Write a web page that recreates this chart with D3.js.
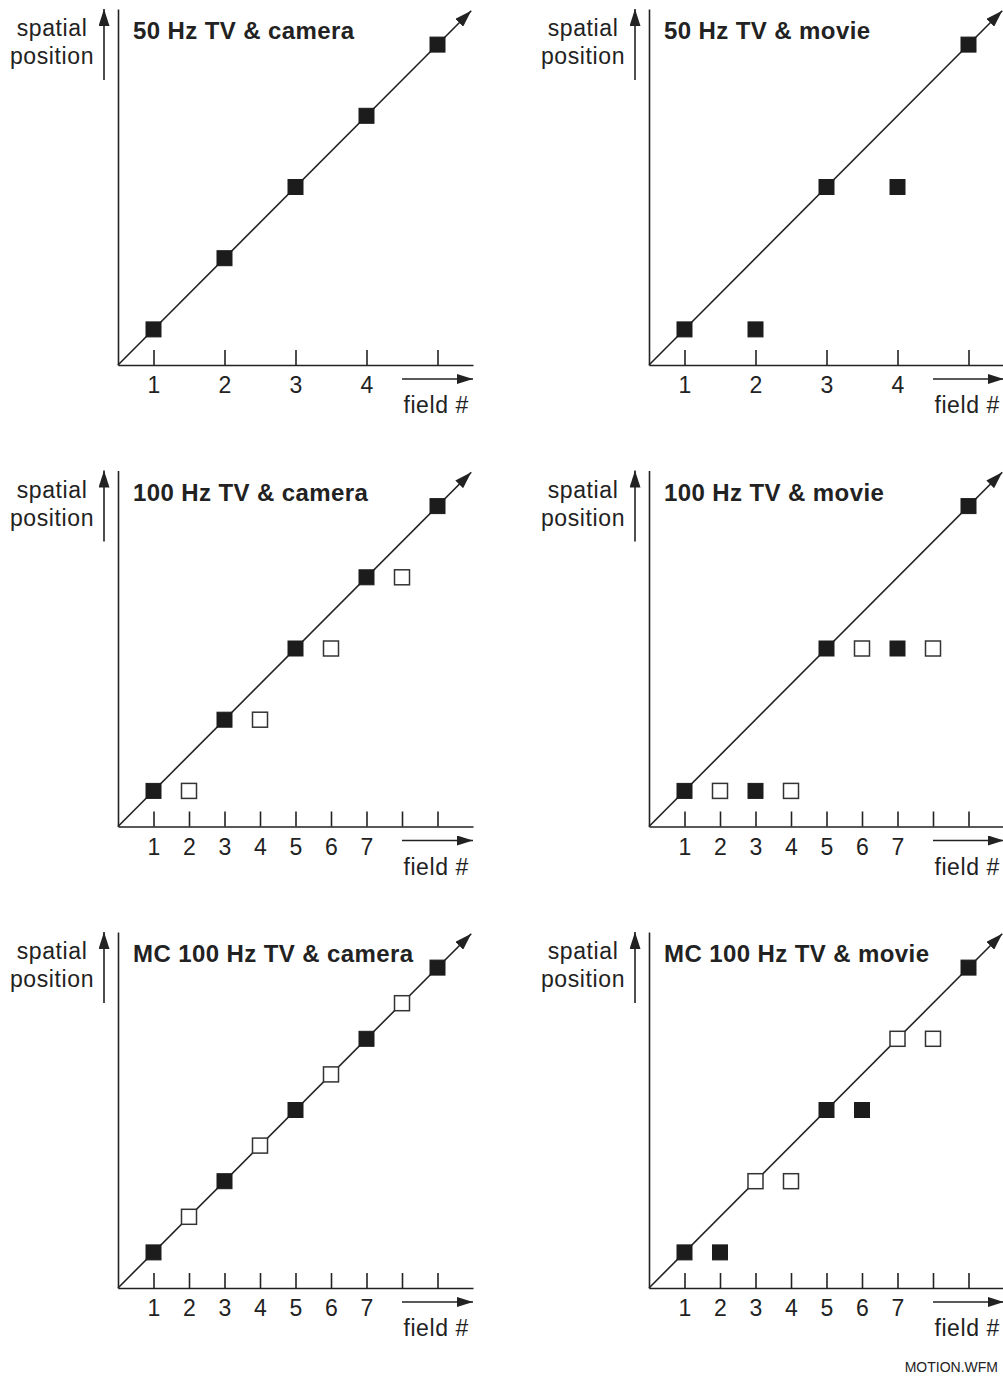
<!DOCTYPE html>
<html>
<head>
<meta charset="utf-8">
<script src="https://cdn.jsdelivr.net/npm/d3@7"></script>
<style>
  html, body { margin: 0; padding: 0; background: #fff; }
  svg { display: block; }
  text { font-family: "Liberation Sans", Arial, Helvetica, sans-serif; fill: #222; }
</style>
</head>
<body>
<script>
// Field timing diagrams: spatial position of a moving object per displayed field.
// Time axis is counted in 100 Hz field periods; 50 Hz fields fall on every other one.

const panelTitles = [
  "50 Hz TV & camera", "50 Hz TV & movie",
  "100 Hz TV & camera", "100 Hz TV & movie",
  "MC 100 Hz TV & camera", "MC 100 Hz TV & movie"
];
const panelRates = [50, 50, 100, 100, 100, 100];

// tick positions (in 100 Hz field periods) and their labels
const ticks50 = [1, 3, 5, 7, 9];
const tickLabels50 = ["1", "2", "3", "4", ""];
const ticks100 = [1, 2, 3, 4, 5, 6, 7, 8, 9];
const tickLabels100 = ["1", "2", "3", "4", "5", "6", "7", "", ""];

// field time, displayed position, original (1 = filled) or repeated/interpolated (0 = open)
const tv50CameraT   = [1, 3, 5, 7, 9];
const tv50CameraPos = [1, 3, 5, 7, 9];
const tv50CameraOrig = [1, 1, 1, 1, 1];

const tv50MovieT   = [1, 3, 5, 7, 9];
const tv50MoviePos = [1, 1, 5, 5, 9];
const tv50MovieOrig = [1, 1, 1, 1, 1];

const tv100CameraT   = [1, 2, 3, 4, 5, 6, 7, 8, 9];
const tv100CameraPos = [1, 1, 3, 3, 5, 5, 7, 7, 9];
const tv100CameraOrig = [1, 0, 1, 0, 1, 0, 1, 0, 1];

const tv100MovieT   = [1, 2, 3, 4, 5, 6, 7, 8, 9];
const tv100MoviePos = [1, 1, 1, 1, 5, 5, 5, 5, 9];
const tv100MovieOrig = [1, 0, 1, 0, 1, 0, 1, 0, 1];

const mc100CameraT   = [1, 2, 3, 4, 5, 6, 7, 8, 9];
const mc100CameraPos = [1, 2, 3, 4, 5, 6, 7, 8, 9];
const mc100CameraOrig = [1, 0, 1, 0, 1, 0, 1, 0, 1];

const mc100MovieT   = [1, 2, 3, 4, 5, 6, 7, 8, 9];
const mc100MoviePos = [1, 1, 3, 3, 5, 5, 7, 7, 9];
const mc100MovieOrig = [1, 1, 0, 0, 1, 1, 0, 0, 1];

const panelFields = [
  [tv50CameraT, tv50CameraPos, tv50CameraOrig],
  [tv50MovieT, tv50MoviePos, tv50MovieOrig],
  [tv100CameraT, tv100CameraPos, tv100CameraOrig],
  [tv100MovieT, tv100MoviePos, tv100MovieOrig],
  [mc100CameraT, mc100CameraPos, mc100CameraOrig],
  [mc100MovieT, mc100MoviePos, mc100MovieOrig]
];

const W = 1003, H = 1376;
const ink = "#222";
const colX = [118, 649];
const rowY = [365, 826.5, 1288];
const axisLen = 355;   // length of both axes in px
const sq = 15;         // square marker size
const lw = 1.6;        // line width
const fs = 23;         // label font size

const svg = d3.select("body").append("svg")
  .attr("width", W).attr("height", H)
  .attr("viewBox", `0 0 ${W} ${H}`);

const defs = svg.append("defs");
function arrowMarker(id, len, wid) {
  defs.append("marker")
    .attr("id", id)
    .attr("markerUnits", "userSpaceOnUse")
    .attr("viewBox", `0 0 ${len} ${wid}`)
    .attr("markerWidth", len).attr("markerHeight", wid)
    .attr("refX", len).attr("refY", wid / 2)
    .attr("orient", "auto")
    .append("path")
    .attr("d", `M0,0L${len},${wid / 2}L0,${wid}Z`)
    .attr("fill", ink);
}
arrowMarker("headDiag", 17, 11);
arrowMarker("headSmall", 16, 10);
arrowMarker("headUp", 17, 11);

panelTitles.forEach((title, i) => {
  const ox = colX[i % 2], oy = rowY[Math.floor(i / 2)];
  const x = d3.scaleLinear().domain([0, 10]).range([ox, ox + axisLen]);
  const y = d3.scaleLinear().domain([0, 10]).range([oy, oy - 356]);
  const g = svg.append("g");

  // time axis with upward ticks
  const is50 = panelRates[i] === 50;
  const tv = is50 ? ticks50 : ticks100;
  const tl = is50 ? tickLabels50 : tickLabels100;
  const xAxis = d3.axisBottom(x)
    .tickValues(tv)
    .tickFormat((d, k) => tl[k])
    .tickSizeInner(-15)
    .tickSizeOuter(0)
    .tickPadding(12);
  const gx = g.append("g").attr("transform", `translate(0,${oy})`).call(xAxis);
  gx.select(".domain").attr("stroke", ink).attr("stroke-width", lw);
  gx.selectAll(".tick line").attr("stroke", ink).attr("stroke-width", lw);
  gx.selectAll(".tick text")
    .attr("font-family", "Liberation Sans, Arial, sans-serif")
    .attr("font-size", fs).attr("fill", ink);

  // position axis (no ticks)
  const yAxis = d3.axisLeft(y).tickValues([]).tickSizeOuter(0);
  const gy = g.append("g").attr("transform", `translate(${ox},0)`).call(yAxis);
  gy.select(".domain").attr("stroke", ink).attr("stroke-width", lw);

  // motion trajectory
  g.append("line")
    .attr("x1", x(0)).attr("y1", y(0))
    .attr("x2", x(9.95)).attr("y2", y(9.95))
    .attr("stroke", ink).attr("stroke-width", lw)
    .attr("marker-end", "url(#headDiag)");

  // "field #" arrow
  g.append("line")
    .attr("x1", ox + 284).attr("y1", oy + 14)
    .attr("x2", ox + axisLen).attr("y2", oy + 14)
    .attr("stroke", ink).attr("stroke-width", lw)
    .attr("marker-end", "url(#headSmall)");
  g.append("text")
    .attr("x", ox + 351).attr("y", oy + 48)
    .attr("text-anchor", "end")
    .attr("font-size", fs).attr("letter-spacing", 0.6)
    .text("field #");

  // "spatial position" arrow and label
  g.append("line")
    .attr("x1", ox - 14).attr("y1", oy - 285)
    .attr("x2", ox - 14).attr("y2", oy - 356)
    .attr("stroke", ink).attr("stroke-width", lw)
    .attr("marker-end", "url(#headUp)");
  g.append("text")
    .attr("x", ox - 66).attr("y", oy - 329)
    .attr("text-anchor", "middle")
    .attr("font-size", fs).attr("letter-spacing", 0.6)
    .text("spatial");
  g.append("text")
    .attr("x", ox - 66).attr("y", oy - 301)
    .attr("text-anchor", "middle")
    .attr("font-size", fs).attr("letter-spacing", 0.6)
    .text("position");

  // panel title
  g.append("text")
    .attr("x", ox + 15).attr("y", oy - 326)
    .attr("font-size", 24).attr("font-weight", "bold")
    .attr("letter-spacing", 0.4)
    .text(title);

  // displayed fields
  const [ts, ps, os] = panelFields[i];
  const pts = ts.map((t, k) => ({ t, p: ps[k], orig: os[k] }));
  g.selectAll("rect.field").data(pts).enter().append("rect")
    .attr("class", "field")
    .attr("x", d => x(d.t) - sq / 2)
    .attr("y", d => y(d.p) - sq / 2)
    .attr("width", sq).attr("height", sq)
    .attr("fill", d => d.orig ? "#1c1c1c" : "#fff")
    .attr("stroke", d => d.orig ? "#1c1c1c" : "#333")
    .attr("stroke-width", d => d.orig ? 1 : 1.5);
});

svg.append("text")
  .attr("x", 998).attr("y", 1372)
  .attr("text-anchor", "end")
  .attr("font-size", 14)
  .text("MOTION.WFM");
</script>
</body>
</html>
